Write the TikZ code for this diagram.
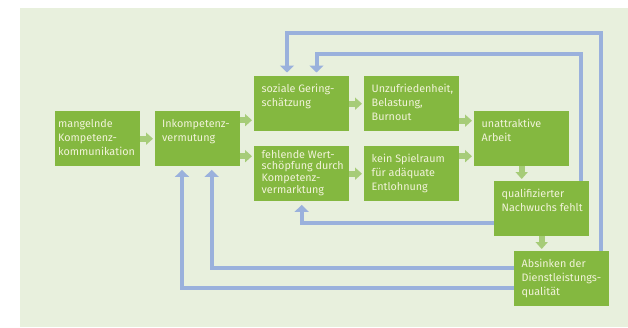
\documentclass[tikz,border=0pt]{standalone}
\usepackage{fontspec}
\setmainfont{Fira Sans}
\usetikzlibrary{arrows.meta}
\definecolor{bggreen}{HTML}{E8F0DD}
\definecolor{boxgreen}{HTML}{84B840}
\definecolor{arrgreen}{HTML}{A6CC78}
\definecolor{loopblue}{HTML}{9AB1DC}
\definecolor{txtcream}{HTML}{F2F3DA}
\newcommand\firstgap{16pt}

\begin{document}
\begin{tikzpicture}[x=1pt, y=-1pt,
	box/.style={fill=boxgreen, text=txtcream, anchor=north west,
		inner ysep=0pt, inner xsep=7.5pt,
		font=\fontsize{10.8}{14}\selectfont,
		execute at begin node={\hbox to #1\bgroup\begin{minipage}[t][55pt][t]{120pt}\raggedright\rule{0pt}{\firstgap}},
		execute at end node={\end{minipage}\hss\egroup}},
	tight/.style={font=\fontsize{10.8}{11.7}\selectfont, /utils/exec={\def\firstgap{12pt}}},
	garrow/.style={draw=arrgreen, line width=6pt, -{Triangle[width=12pt, length=7pt]}, shorten >=2pt},
	bline/.style={draw=loopblue, line width=4pt, -{Triangle[width=14pt, length=7pt]}, shorten >=3.5pt}]
		%%%%% START %%%%%
		
		\useasboundingbox (0,0) rectangle (628,327);
		\fill[bggreen] (20,8) rectangle (628,327);
		
		\node[box=79pt, inner xsep=3pt] (mang) at (55,111) {mangelnde\\Kompetenz-\\kommunikation};
		\node[box=71pt, inner xsep=7pt] (inko) at (155,111) {Inkompetenz-\\vermutung};
		
		\node[box=80pt] (soz) at (254,76) {soziale Gering-\\schätzung};
		\node[box=80pt, tight] (fehl) at (254,146) {fehlende Wert-\\schöpfung durch\\Kompetenz-\\vermarktung};
		
		\node[box=80pt] (unz) at (364,76) {Unzufriedenheit,\\Belastung,\\Burnout};
		\node[box=80pt] (kein) at (364,146) {kein Spielraum\\für adäquate\\Entlohnung};
		
		\node[box=80pt] (unat) at (474,111) {unattraktive\\Arbeit};
		\node[box=80pt] (qual) at (494,181) {qualifizierter\\Nachwuchs fehlt};
		\node[box=80pt] (absi) at (514,251) {Absinken der\\Dienstleistungs-\\qualität};
		
		% green arrows
		\draw[garrow] (mang.east) -- (inko.west);
		\draw[garrow] ([yshift=18.5pt]inko.east) -- ([yshift=18.5pt]inko.east -| soz.west);
		\draw[garrow] ([yshift=-17.5pt]inko.east) -- ([yshift=-17.5pt]inko.east -| fehl.west);
		\draw[garrow] (soz.east) -- (unz.west);
		\draw[garrow] (fehl.east) -- (kein.west);
		\draw[garrow] ([yshift=18pt]unat.west -| unz.east) -- ([yshift=18pt]unat.west);
		\draw[garrow] ([yshift=-17.5pt]unat.west -| kein.east) -- ([yshift=-17.5pt]unat.west);
		\draw[garrow] (unat.south) -- (unat.south |- qual.north);
		\draw[garrow] (qual.south) -- (qual.south |- absi.north);
		
		% blue loops
		\draw[bline] ([xshift=-8pt]absi.north east) |- ([xshift=33pt, yshift=43pt]soz.north west) -- ([xshift=33pt]soz.north west);
		\draw[bline] ([xshift=-8pt]qual.north east) |- ([xshift=62.5pt, yshift=22.3pt]soz.north west) -- ([xshift=62.5pt]soz.north west);
		\draw[bline] ([yshift=-14.5pt]qual.west) -| ([xshift=47.7pt]fehl.south west);
		\draw[bline] ([yshift=10.5pt]absi.west) -| ([xshift=56.7pt]inko.south west);
		\draw[bline] ([yshift=-9.5pt]absi.west) -| ([xshift=27pt]inko.south west);
		
		%%%%% END %%%%%
\end{tikzpicture}
\end{document}
